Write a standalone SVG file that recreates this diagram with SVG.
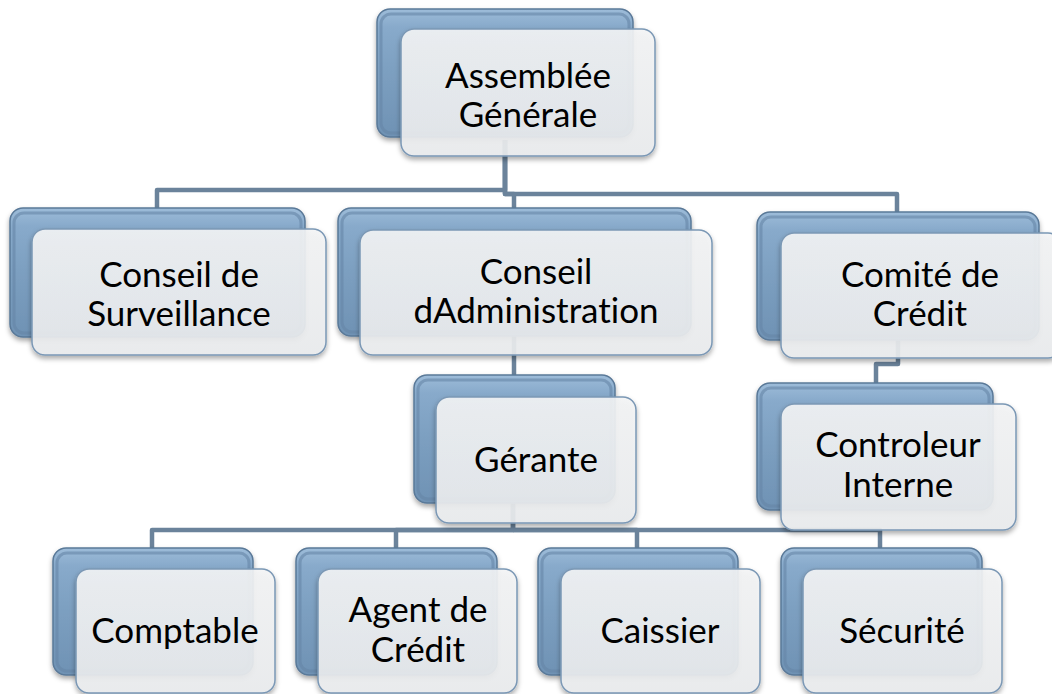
<svg xmlns="http://www.w3.org/2000/svg" width="1052" height="694" viewBox="0 0 1052 694">
<defs>
<linearGradient id="bk" x1="0" y1="0" x2="0" y2="1">
<stop offset="0" stop-color="#9dbcd9"/>
<stop offset="0.14" stop-color="#88aacb"/>
<stop offset="0.5" stop-color="#7c9fc0"/>
<stop offset="1" stop-color="#6f92b4"/>
</linearGradient>
<linearGradient id="fr" x1="0" y1="0" x2="0" y2="1">
<stop offset="0" stop-color="#f4f5f6"/>
<stop offset="1" stop-color="#ebedef"/>
</linearGradient>
<filter id="sh" x="-10%" y="-10%" width="120%" height="130%">
<feDropShadow dx="0" dy="3" stdDeviation="2.5" flood-color="#000" flood-opacity="0.35"/>
</filter>
</defs>
<style>
.back{fill:url(#bk);stroke:#5a7998;stroke-width:1.5}
.bev{fill:none;stroke:#6686a6;stroke-width:3;opacity:0.6}
.front{fill:url(#fr);fill-opacity:0.9;stroke:#7b98b5;stroke-width:1.5}
.lbl{font-family:Lato,"Open Sans","Liberation Sans",sans-serif;font-size:35px;fill:#000;text-anchor:middle;font-variant-ligatures:none}
.con{fill:none;stroke:#6b839b;stroke-width:4.5;stroke-linejoin:round}
</style>
<g id="connectors">
<path class="con" d="M505,140 V190 H157 V210"/>
<path class="con" d="M505,140 V194 H514 V210"/>
<path class="con" d="M505,140 V194 H897 V214"/>
<path class="con" d="M514,330 V377"/>
<path class="con" d="M898,335 V364 H876 V385"/>
<path class="con" d="M513,500 V530 H152 V550"/>
<path class="con" d="M513,500 V530 H396 V550"/>
<path class="con" d="M513,530 H637 V550"/>
<path class="con" d="M513,530 H880 V550"/>
</g>
<g id="n-assemblee">
<rect class="back" x="377" y="9" width="256" height="128" rx="13" filter="url(#sh)"/>
<rect class="bev" x="381" y="14" width="248" height="119" rx="10"/>
<rect class="front" x="401" y="29" width="254" height="127" rx="13" filter="url(#sh)"/>
<text class="lbl" x="528" y="88">Assemblée</text>
<text class="lbl" x="528" y="127">Générale</text>
</g>
<g id="n-surveillance">
<rect class="back" x="10" y="208" width="295" height="129" rx="13" filter="url(#sh)"/>
<rect class="bev" x="14" y="213" width="287" height="120" rx="10"/>
<rect class="front" x="32" y="229" width="294" height="126" rx="13" filter="url(#sh)"/>
<text class="lbl" x="179" y="287">Conseil de</text>
<text class="lbl" x="179" y="326">Surveillance</text>
</g>
<g id="n-administration">
<rect class="back" x="338" y="208" width="353" height="128" rx="13" filter="url(#sh)"/>
<rect class="bev" x="342" y="213" width="345" height="119" rx="10"/>
<rect class="front" x="360" y="230" width="352" height="125" rx="13" filter="url(#sh)"/>
<text class="lbl" x="536" y="284">Conseil</text>
<text class="lbl" x="536" y="323">dAdministration</text>
</g>
<g id="n-comite">
<rect class="back" x="757" y="212" width="282" height="128" rx="13" filter="url(#sh)"/>
<rect class="bev" x="761" y="217" width="274" height="119" rx="10"/>
<rect class="front" x="781" y="233" width="280" height="125" rx="13" filter="url(#sh)"/>
<text class="lbl" x="920" y="287">Comité de</text>
<text class="lbl" x="920" y="326">Crédit</text>
</g>
<g id="n-gerante">
<rect class="back" x="414" y="375" width="201" height="128" rx="13" filter="url(#sh)"/>
<rect class="bev" x="418" y="380" width="193" height="119" rx="10"/>
<rect class="front" x="436" y="397" width="200" height="126" rx="13" filter="url(#sh)"/>
<text class="lbl" x="536" y="472">Gérante</text>
</g>
<g id="n-controleur">
<rect class="back" x="757" y="383" width="236" height="127" rx="13" filter="url(#sh)"/>
<rect class="bev" x="761" y="388" width="228" height="118" rx="10"/>
<rect class="front" x="781" y="404" width="235" height="126" rx="13" filter="url(#sh)"/>
<text class="lbl" x="898" y="457">Controleur</text>
<text class="lbl" x="898" y="497">Interne</text>
</g>
<g id="n-comptable">
<rect class="back" x="53" y="548" width="200" height="127" rx="13" filter="url(#sh)"/>
<rect class="bev" x="57" y="553" width="192" height="118" rx="10"/>
<rect class="front" x="76" y="569" width="199" height="124" rx="13" filter="url(#sh)"/>
<text class="lbl" x="175" y="643">Comptable</text>
</g>
<g id="n-agent">
<rect class="back" x="296" y="548" width="201" height="127" rx="13" filter="url(#sh)"/>
<rect class="bev" x="300" y="553" width="193" height="118" rx="10"/>
<rect class="front" x="318" y="569" width="199" height="124" rx="13" filter="url(#sh)"/>
<text class="lbl" x="418" y="622">Agent de</text>
<text class="lbl" x="418" y="662">Crédit</text>
</g>
<g id="n-caissier">
<rect class="back" x="538" y="548" width="200" height="127" rx="13" filter="url(#sh)"/>
<rect class="bev" x="542" y="553" width="192" height="118" rx="10"/>
<rect class="front" x="561" y="569" width="199" height="124" rx="13" filter="url(#sh)"/>
<text class="lbl" x="660" y="643">Caissier</text>
</g>
<g id="n-securite">
<rect class="back" x="781" y="548" width="201" height="127" rx="13" filter="url(#sh)"/>
<rect class="bev" x="785" y="553" width="193" height="118" rx="10"/>
<rect class="front" x="803" y="569" width="199" height="124" rx="13" filter="url(#sh)"/>
<text class="lbl" x="902" y="643">Sécurité</text>
</g>
</svg>
